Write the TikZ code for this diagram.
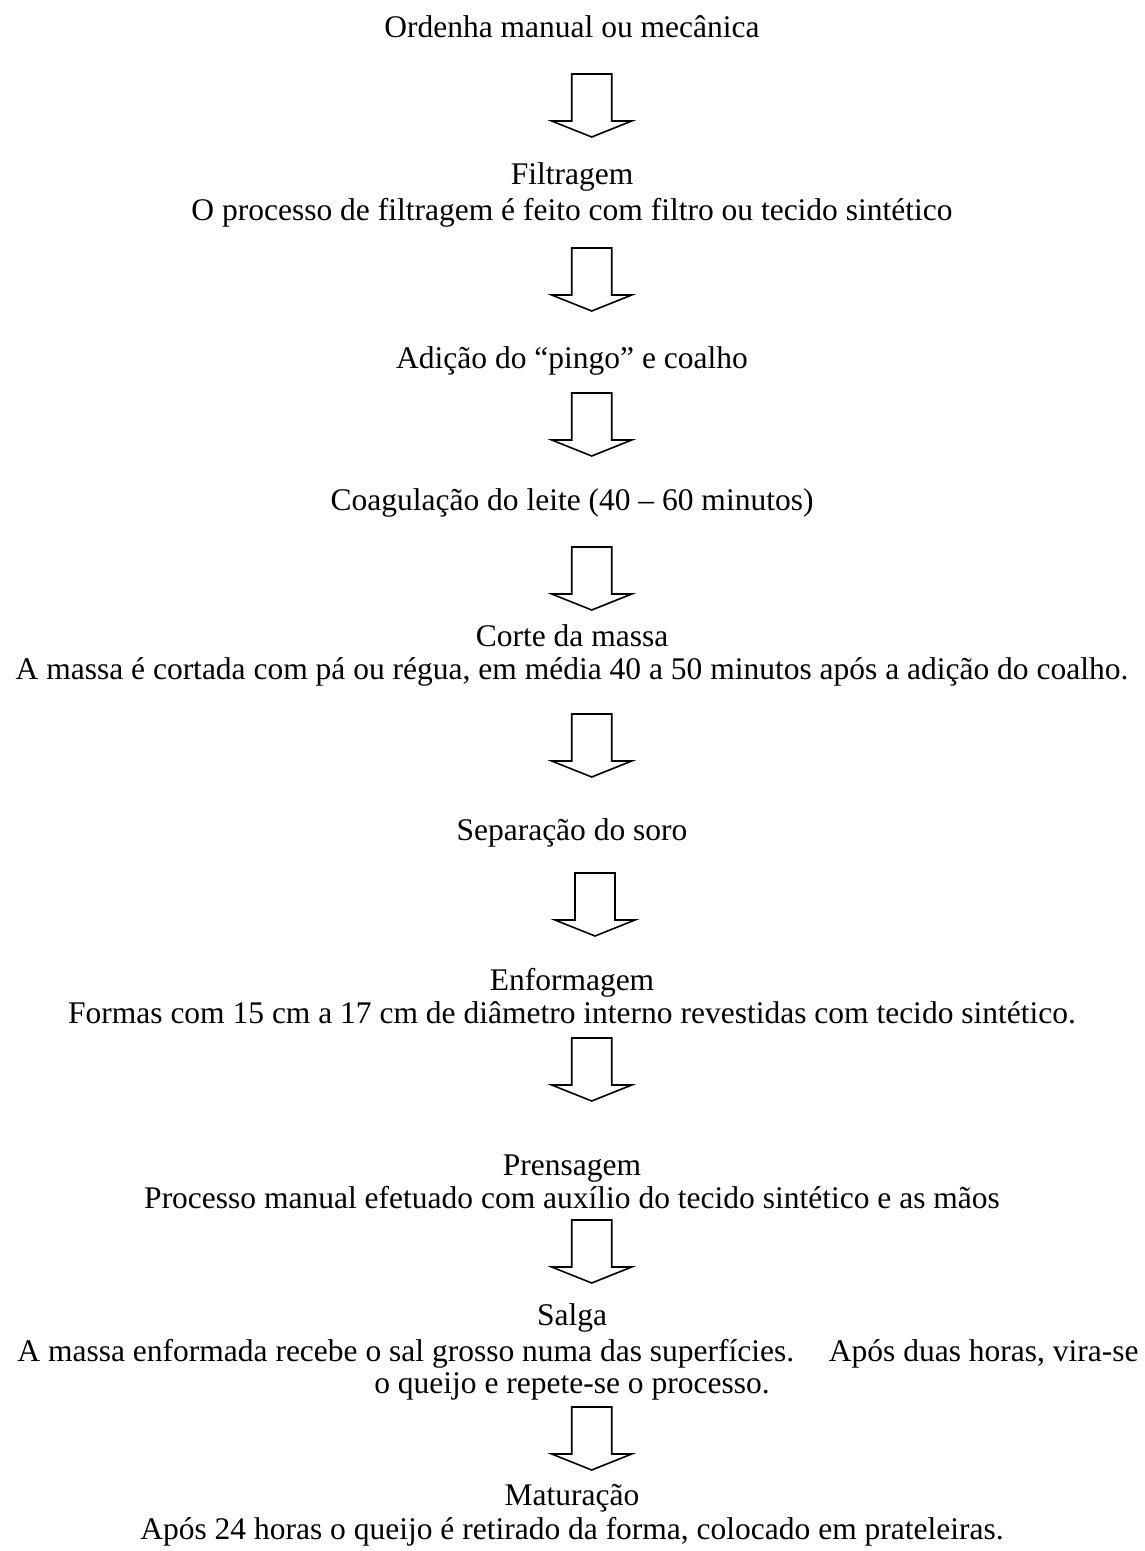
\documentclass[tikz,border=0pt]{standalone}
\usepackage{fontspec}
\setmainfont{Liberation Serif}
\usetikzlibrary{positioning}

\begin{document}
\begin{tikzpicture}[x=1pt,y=-1pt,line join=miter]
\useasboundingbox[fill=white] (0,0) rectangle (1144,1551);
\tikzset{steptext/.style={anchor=base,font=\fontsize{31.5}{36}\selectfont,inner sep=0pt},
  flowarrow/.style={draw=black,line width=1.6pt,fill=white},
  downarrow/.pic={\path[flowarrow] (-20,0) -- (20,0) -- (20,47) -- (40,47) -- (0,63) -- (-40,47) -- (-20,47) -- cycle;}}
% etapas
\node[steptext] (ordenha) at (572,37) {Ordenha manual ou mecânica};
\node[steptext] (filtragem) at (572,184) {Filtragem};
\node[steptext] (filtragemtxt) at (572,220) {O processo de filtragem é feito com filtro ou tecido sintético};
\node[steptext] (adicao) at (572,368) {Adição do “pingo” e coalho};
\node[steptext] (coagulacao) at (572,510) {Coagulação do leite (40 – 60 minutos)};
\node[steptext] (corte) at (572,646) {Corte da massa};
\node[steptext] (cortetxt) at (572,679) {A massa é cortada com pá ou régua, em média 40 a 50 minutos após a adição do coalho.};
\node[steptext] (separacao) at (572,840) {Separação do soro};
\node[steptext] (enformagem) at (572,990) {Enformagem};
\node[steptext] (enformagemtxt) at (572,1023) {Formas com 15 cm a 17 cm de diâmetro interno revestidas com tecido sintético.};
\node[steptext] (prensagem) at (572,1175) {Prensagem};
\node[steptext] (prensagemtxt) at (572,1208) {Processo manual efetuado com auxílio do tecido sintético e as mãos};
\node[steptext] (salga) at (572,1325) {Salga};
\node[steptext] (salgatxt) at (578,1361) {A massa enformada recebe o sal grosso numa das superfícies.\hspace{1.1em}Após duas horas, vira-se};
\node[steptext] (salgatxtb) at (572,1393) {o queijo e repete-se o processo.};
\node[steptext] (maturacao) at (572,1505) {Maturação};
\node[steptext] (maturacaotxt) at (572,1539) {Após 24 horas o queijo é retirado da forma, colocado em prateleiras.};
% setas
\pic at (591.7,74) {downarrow};
\pic at (591.7,248) {downarrow};
\pic at (591.7,393) {downarrow};
\pic at (591.7,547) {downarrow};
\pic at (591.7,714) {downarrow};
\pic at (595,873) {downarrow};
\pic at (591.7,1038) {downarrow};
\pic at (591.7,1220) {downarrow};
\pic at (591.7,1407) {downarrow};
\end{tikzpicture}
\end{document}
